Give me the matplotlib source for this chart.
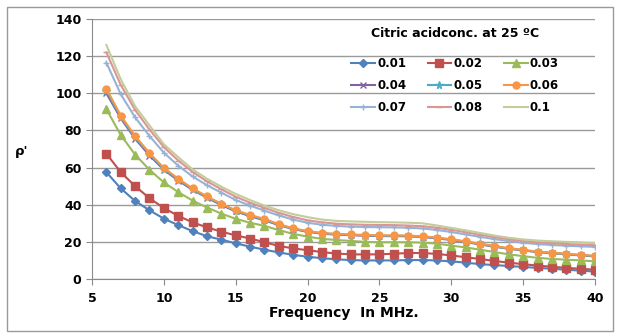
"""
Citric acid concentration at 25 C: rho' against frequency
"""

import numpy
import matplotlib
matplotlib.use("Agg")
import matplotlib.pyplot as plt
from matplotlib.patches import Rectangle

plt.rcParams["font.family"] = ["DejaVu Sans"]
plt.rcParams["font.weight"] = "bold"

freq = numpy.arange(6, 41)

c001 = [57.5, 48.8, 42, 37, 32.5, 29, 25.8, 23, 21.2, 19.2, 17.4, 15.8, 14.3, 13, 12,
        11.2, 10.6, 10.2, 10, 10, 10, 10.2, 10.2, 10, 9.5, 8.8, 8, 7.5, 7, 6.5, 6, 5.5, 5, 4.5, 4]
c002 = [67.5, 57.5, 50, 43.5, 38.2, 34, 30.5, 27.8, 25.5, 23.5, 21.8, 19.8, 17.8, 16.5, 15.5,
        14.5, 13.7, 13.3, 13.2, 13.3, 13.6, 14, 14, 13.5, 12.7, 11.7, 10.8, 9.7, 8.8, 8, 7.2, 6.6, 6, 5.5, 5]
c003 = [91.5, 77.5, 67, 58.8, 52, 46.8, 42.2, 38.5, 35.2, 32.4, 30.3, 28.6, 26.3, 24.3, 22.8,
        21.6, 21, 20.5, 20, 19.8, 19.8, 19.8, 19.6, 19, 18, 17, 15.8, 14.5, 13.3, 12.3, 11.4, 10.8, 10.4, 10, 9.5]
c004 = [100, 86.5, 75.5, 66.5, 58.8, 53, 48, 43.8, 39.8, 36.4, 33.8, 31.6, 29, 26.9, 25.4,
        24.4, 23.9, 23.6, 23.3, 23.1, 23.1, 23, 22.6, 21.9, 21, 19.9, 18.6, 17.4, 16.3, 15.4, 14.5, 13.9, 13.3, 12.7, 12.2]
c005 = [101.5, 87.2, 76.2, 67.2, 59.3, 53.5, 48.4, 44.1, 40.2, 36.7, 34.1, 32, 29.3, 27.1, 25.6,
        24.6, 24.1, 23.8, 23.5, 23.3, 23.3, 23.2, 22.8, 22.1, 21.2, 20.1, 18.8, 17.6, 16.4, 15.5, 14.6, 14, 13.4, 12.8, 12.3]
c006 = [102.5, 88, 77, 67.8, 59.8, 54, 48.8, 44.5, 40.5, 37, 34.5, 32.3, 29.5, 27.3, 25.8,
        24.8, 24.3, 24, 23.7, 23.5, 23.5, 23.4, 23, 22.3, 21.4, 20.3, 19, 17.8, 16.6, 15.7, 14.8, 14.2, 13.6, 13, 12.5]
c007 = [116.5, 99.5, 87, 77, 68, 61, 55.2, 50.5, 46.5, 42.5, 39.5, 36.8, 34.2, 32, 30.3,
        29.2, 28.6, 28.2, 28, 27.9, 27.8, 27.6, 27.2, 26.4, 25.3, 24, 22.7, 21.5, 20.4, 19.5, 18.8, 18.3, 17.9, 17.6, 17.3]
c008 = [122, 104.5, 91, 80.5, 71, 63.8, 57.6, 52.6, 48.3, 44.3, 41.1, 38.3, 35.6, 33.4, 31.6,
        30.5, 29.8, 29.4, 29.2, 29.1, 29, 28.8, 28.4, 27.6, 26.5, 25.2, 23.8, 22.6, 21.4, 20.4, 19.7, 19.2, 18.8, 18.5, 18.2]
c010 = [126, 107.5, 93, 82.7, 72.5, 65.6, 59, 54, 49.7, 45.8, 42.5, 39.5, 37, 34.9, 33.3,
        32, 31.3, 31, 30.8, 30.6, 30.5, 30.3, 30, 28.8, 27.5, 26.2, 24.8, 23.4, 22.2, 21.3, 20.7, 20.3, 20, 19.7, 19.3]

labels = ["0.01", "0.02", "0.03", "0.04", "0.05", "0.06", "0.07", "0.08", "0.1"]
series = [c001, c002, c003, c004, c005, c006, c007, c008, c010]
colors = ["#4F81BD", "#C0504D", "#9BBB59", "#8064A2", "#4BACC6", "#F79646",
          "#95B3D7", "#D99694", "#C3CC9B"]
markers = ["D", "s", "^", "x", "*", "o", "+", "_", ""]
msizes = [4.5, 5.5, 5.5, 4.5, 5.5, 5, 5, 5, 0]

fig = plt.figure(figsize=(6.2, 3.34), dpi=100)
ax = fig.add_axes([92 / 620, 1 - 279 / 334, 503 / 620, 260 / 334])

lines = []
for i in range(len(series)):
    ln, = ax.plot(freq, series[i], color=colors[i], marker=markers[i], markersize=msizes[i],
                  linewidth=1.5, label=labels[i])
    lines.append(ln)

ax.set_xlim(5, 40)
ax.set_ylim(0, 140)
ax.set_xticks(numpy.arange(5, 41, 5))
ax.set_yticks(numpy.arange(0, 141, 20))
ax.grid(axis="y", color="#9a9a9a", linewidth=1)
ax.set_axisbelow(True)
for side in ["top", "right"]:
    ax.spines[side].set_visible(False)
for side in ["left", "bottom"]:
    ax.spines[side].set_color("#8a8a8a")
ax.tick_params(axis="both", colors="#8a8a8a", labelcolor="black", labelsize=9, length=4)
ax.tick_params(axis="x", pad=5)

ax.set_xlabel("Frequency  In MHz.", fontsize=10, fontweight="bold", labelpad=1)
fig.text(22 / 620, 1 - 152 / 334, "\u03c1'", fontsize=9.5, fontweight="bold",
         ha="center", va="center")

# matplotlib fills legend columns first, Excel fills rows first
order = [0, 3, 6, 1, 4, 7, 2, 5, 8]
leg = ax.legend([lines[k] for k in order], [labels[k] for k in order],
                ncol=3, loc="upper center", bbox_to_anchor=(0.722, 1.01),
                frameon=False, fontsize=8.5, handlelength=2.0, columnspacing=1.8,
                labelspacing=0.77, handletextpad=0.2,
                title="Citric acidconc. at 25 \u00baC",
                title_fontproperties={"size": 9, "weight": "bold"})
leg._legend_box.sep = 12

fig.patches.append(Rectangle((7 / 620, 3 / 334), 606 / 620, 324 / 334,
                             transform=fig.transFigure, fill=False,
                             edgecolor="#9a9a9a", linewidth=1))

fig.savefig("out.png", dpi=100)
